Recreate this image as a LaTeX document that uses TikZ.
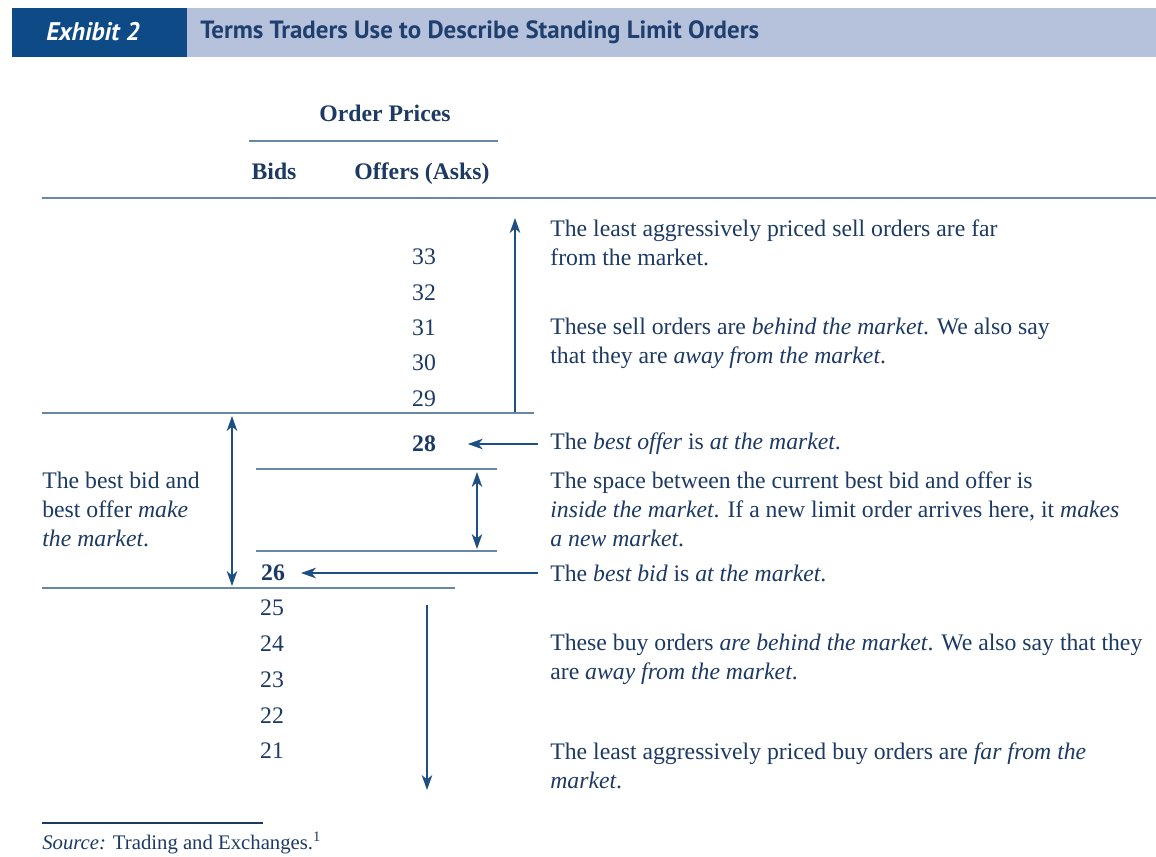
\documentclass[tikz,border=0pt]{standalone}
\usepackage{fontspec}
\setmainfont{Liberation Serif}
\newfontfamily\headfont{PT Sans}
\usepackage{tikz}
\usetikzlibrary{arrows.meta, positioning}
\definecolor{navy}{HTML}{1C3A63}
\definecolor{exhblue}{HTML}{0E4A85}
\definecolor{bandblue}{HTML}{B6C1DB}
\definecolor{titleblue}{HTML}{1F3F6E}
\definecolor{rulegray}{HTML}{6886A8}
\definecolor{arrblue}{HTML}{1D4F82}

\begin{document}
\begin{tikzpicture}[
    x=0.02cm, y=-0.02cm,
    every node/.style={text=navy, inner sep=0pt, font=\fontsize{13.5}{16.5}\selectfont},
    price/.style={anchor=center},
    bestprice/.style={anchor=center, font=\fontsize{13.5}{16.5}\selectfont\bfseries},
    colhead/.style={anchor=base, font=\fontsize{13.5}{16.5}\selectfont\bfseries},
    note/.style={anchor=west, align=left},
    rule/.style={draw=rulegray, line width=1.1pt},
    arrow/.style={draw=arrblue, line width=0.8pt, -{Stealth[length=8.5pt, width=6pt, inset=2.5pt]}},
    dblarrow/.style={draw=arrblue, line width=0.8pt, {Stealth[length=8.5pt, width=6pt, inset=2.5pt]}-{Stealth[length=8.5pt, width=6pt, inset=2.5pt]}}
]
\useasboundingbox (0,0) rectangle (1156,856);

% header band
\fill[exhblue] (12,8) rectangle (187,57);
\fill[bandblue] (187,8) rectangle (1156,57);
\node[text=white, font=\headfont\fontsize{14.5}{16}\selectfont\bfseries\itshape] (exhibit) at (93,32) {Exhibit 2};
\node[anchor=west, text=titleblue, font=\headfont\fontsize{14.2}{16}\selectfont\bfseries] (title) at (200,32) {Terms Traders Use to Describe Standing Limit Orders};

% column heads
\node[colhead] (orderprices) at (385,121) {Order Prices};
\draw[rule] (249,141) -- (498,141);
\node[colhead] (bids) at (274,179) {Bids};
\node[colhead] (offers) at (422,179) {Offers (Asks)};
\draw[rule] (42,198) -- (1156,198);

% offers behind the market
\foreach \p/\y in {33/257, 32/293, 31/328, 30/363, 29/399}
    \node[price] (n\p) at (424,\y) {\p};
\coordinate (upfoot) at (515,413);
\coordinate (uptop) at (515,218);
\draw[arrow] (upfoot) -- (uptop);
\node[note] (sellfar) at (550,243) {The least aggressively priced sell orders are far\\from the market.};
\node[note] (sellbehind) at (550,343) {These sell orders are \textit{behind the market}. We also say\\that they are \textit{away from the market}.};
\draw[rule] (42,413) -- (534,413);

% the market
\node[bestprice] (n28) at (424,444) {28};
\node[note] (bestoffer) at (550,444) {The \textit{best offer} is \textit{at the market}.};
\draw[arrow, shorten <=7pt, shorten >=18pt] (bestoffer.west) -- (n28.east);
\draw[rule] (256,469) -- (497,469);
\draw[rule] (256,551) -- (497,551);
\coordinate (insidetop) at (477,472);
\coordinate (insidebot) at (477,549);
\draw[dblarrow] (insidetop) -- (insidebot);
\node[note] (inside) at (550,509) {The space between the current best bid and offer is\\\textit{inside the market}. If a new limit order arrives here, it \textit{makes}\\\textit{a new market}.};
\node[note] (make) at (42,509) {The best bid and\\best offer \textit{make}\\\textit{the market}.};
\coordinate (maketop) at (232,416);
\coordinate (makebot) at (232,586);
\draw[dblarrow] (maketop) -- (makebot);
\node[bestprice] (n26) at (273,573) {26};
\node[note] (bestbid) at (550,573) {The \textit{best bid} is \textit{at the market}.};
\draw[arrow, shorten <=7pt, shorten >=9pt] (bestbid.west) -- (n26.east);
\draw[rule] (42,588) -- (455,588);

% bids behind the market
\foreach \p/\y in {25/608, 24/644, 23/680, 22/716, 21/751}
    \node[price] (n\p) at (272,\y) {\p};
\coordinate (downtop) at (427,605);
\coordinate (downfoot) at (427,790);
\draw[arrow] (downtop) -- (downfoot);
\node[note] (buybehind) at (550,659) {These buy orders \textit{are behind the market}. We also say that they\\are \textit{away from the market}.};
\node[note] (buyfar) at (550,766) {The least aggressively priced buy orders are \textit{far from the}\\\textit{market}.};

% source
\draw[draw=navy, line width=1.2pt] (42,823) -- (263,823);
\node[anchor=west, font=\fontsize{11.8}{13}\selectfont] (source) at (42,843) {\textit{Source:} Trading and Exchanges.\textsuperscript{1}};
\end{tikzpicture}
\end{document}
